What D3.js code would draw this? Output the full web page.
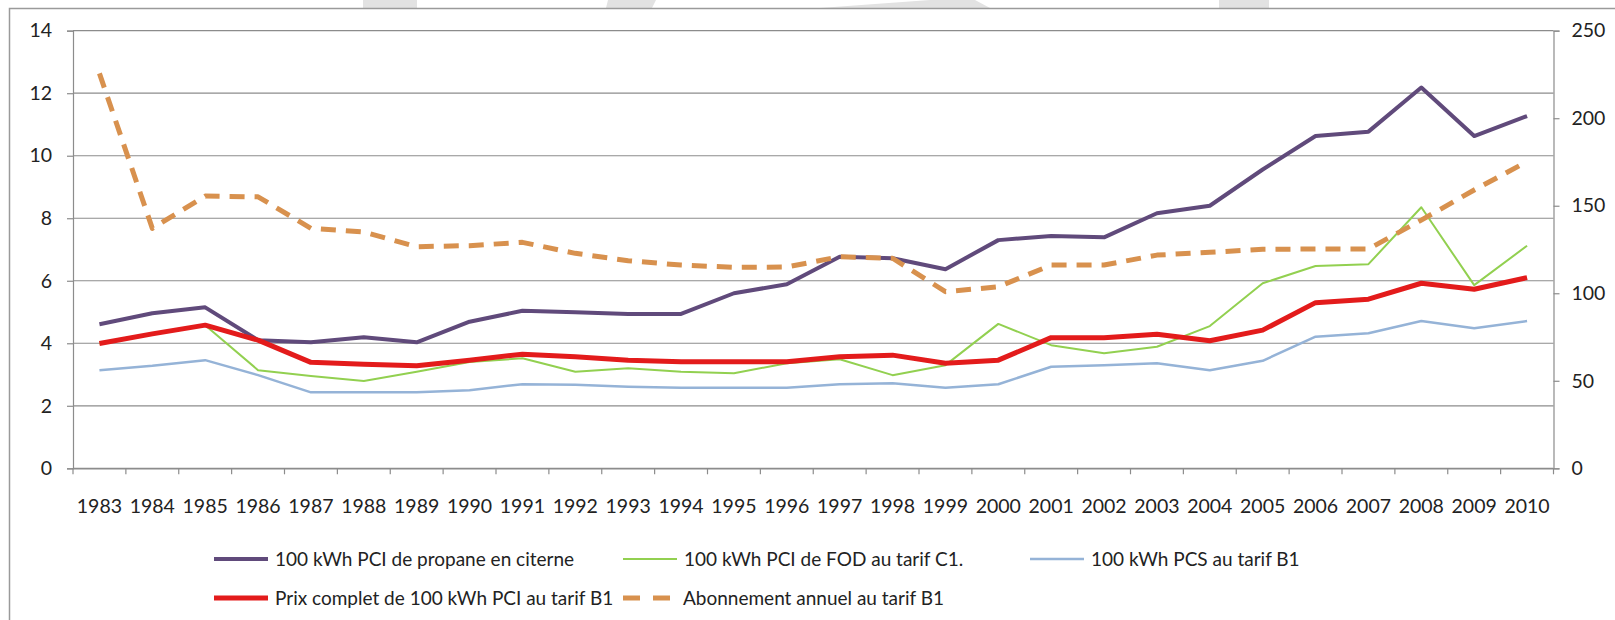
<!DOCTYPE html>
<html>
<head>
<meta charset="utf-8">
<script src="https://cdn.jsdelivr.net/npm/d3@7"></script>
<style>
  body { margin: 0; background: #fff; }
  svg { display: block; font-family: Lato, "Open Sans", sans-serif; }
</style>
</head>
<body>
<div class="plot-container"></div>
<script>
// Data
const years = d3.range(1983, 2011).map(String);

const propane = [4.61, 4.96, 5.15, 4.10, 4.03, 4.19, 4.03, 4.69, 5.04, 4.99, 4.94, 4.94, 5.60, 5.89,
  6.77, 6.72, 6.37, 7.30, 7.43, 7.39, 8.16, 8.40, 9.56, 10.63, 10.77, 12.18, 10.63, 11.27];
const fod = [3.99, 4.30, 4.58, 3.14, 2.95, 2.79, 3.09, 3.40, 3.52, 3.09, 3.20, 3.09, 3.04, 3.36,
  3.49, 2.98, 3.30, 4.62, 3.94, 3.68, 3.89, 4.55, 5.92, 6.47, 6.53, 8.35, 5.86, 7.12];
const pcs = [3.14, 3.28, 3.46, 2.98, 2.43, 2.43, 2.43, 2.50, 2.69, 2.67, 2.61, 2.58, 2.58, 2.58,
  2.69, 2.72, 2.58, 2.69, 3.25, 3.30, 3.36, 3.14, 3.44, 4.21, 4.32, 4.71, 4.48, 4.71];
const prixComplet = [3.99, 4.30, 4.58, 4.10, 3.39, 3.33, 3.28, 3.46, 3.65, 3.57, 3.46, 3.41, 3.41, 3.41,
  3.57, 3.62, 3.36, 3.46, 4.18, 4.18, 4.29, 4.08, 4.42, 5.30, 5.41, 5.92, 5.73, 6.10];
// right axis
const abonnement = [225.6, 137.1, 155.5, 155.1, 137.1, 135.0, 126.6, 127.2, 129.1, 122.8, 118.6, 116.1, 114.8, 115.0,
  120.9, 120.0, 100.9, 103.7, 116.1, 116.1, 121.8, 123.4, 125.1, 125.3, 125.3, 141.8, 159.0, 175.2];

const leftTicks = [0, 2, 4, 6, 8, 10, 12, 14];
const rightTicks = [0, 50, 100, 150, 200, 250];

const series = [
  { name: "100 kWh PCI de propane en citerne", values: propane, axis: "left", color: "#604a7b", width: 4 },
  { name: "100 kWh PCI de FOD au tarif C1.", values: fod, axis: "left", color: "#92d050", width: 2 },
  { name: "100 kWh PCS au tarif B1", values: pcs, axis: "left", color: "#95b3d7", width: 2.5 },
  { name: "Prix complet de 100 kWh PCI au tarif B1", values: prixComplet, axis: "left", color: "#e31b1b", width: 5 },
  { name: "Abonnement annuel au tarif B1", values: abonnement, axis: "right", color: "#d8914e", width: 5, dash: "15,10" }
];

const width = 1615, height = 620;
const GRID_COLOR = "#8c8c8c";
const TEXT_COLOR = "#222";
const FONT_SIZE = 19.5;
const LEGEND_FONT_SIZE = 19;

const svg = d3.select("div.plot-container").append("svg")
  .attr("width", width).attr("height", height);

svg.append("rect").attr("width", width).attr("height", height).attr("fill", "#fff");

// faint watermark pieces peeking above the frame
const watermark = [
  [[363, 0], [417, 0], [417, 8], [363, 8]],
  [[608, 0], [656, 0], [652, 8], [606, 8]],
  [[820, 8], [930, 0], [975, 0], [990, 8]],
  [[1219, 0], [1269, 0], [1269, 8], [1219, 8]]
];
svg.append("g").selectAll("polygon").data(watermark).enter()
  .append("polygon")
  .attr("points", d => d.map(p => p.join(",")).join(" "))
  .attr("fill", "#e2e2e2");

// chart frame
svg.append("rect")
  .attr("x", 9.5).attr("y", 8.5)
  .attr("width", 1700).attr("height", 700)
  .attr("fill", "#fff")
  .attr("stroke", "#9a9a9a")
  .attr("stroke-width", 1.5);

const plot = { left: 73, right: 1553.5, top: 30.7, bottom: 468.3 };

const x = d3.scaleBand().domain(years).range([plot.left, plot.right]);
const yLeft = d3.scaleLinear().domain([0, 14]).range([plot.bottom, plot.top]);
const yRight = d3.scaleLinear().domain([0, 250]).range([plot.bottom, plot.top]);

// gridlines
svg.append("g").attr("class", "grid")
  .selectAll("line").data(leftTicks).enter()
  .append("line")
  .attr("x1", plot.left).attr("x2", plot.right)
  .attr("y1", d => yLeft(d)).attr("y2", d => yLeft(d))
  .attr("stroke", GRID_COLOR).attr("stroke-width", 1.2);

function styleAxis(g) {
  g.select(".domain").attr("stroke", GRID_COLOR).attr("stroke-width", 1.2);
  g.selectAll(".tick line").attr("stroke", GRID_COLOR).attr("stroke-width", 1.2);
  g.selectAll(".tick text")
    .attr("fill", TEXT_COLOR)
    .style("font-size", FONT_SIZE + "px")
    .style("font-family", "Lato, 'Open Sans', sans-serif");
}

// left axis
svg.append("g")
  .attr("transform", `translate(${plot.left},0)`)
  .call(d3.axisLeft(yLeft).tickValues(leftTicks).tickSizeOuter(0).tickSize(6).tickPadding(15))
  .call(styleAxis);

// right axis
svg.append("g")
  .attr("transform", `translate(${plot.right},0)`)
  .call(d3.axisRight(yRight).tickValues(rightTicks).tickSizeOuter(0).tickSize(6).tickPadding(12))
  .call(styleAxis);

// bottom axis: labels at band centres, ticks between categories
const xAxisG = svg.append("g")
  .attr("transform", `translate(0,${plot.bottom})`)
  .call(d3.axisBottom(x).tickSize(0).tickPadding(31).tickSizeOuter(0))
  .call(styleAxis);
xAxisG.selectAll(".tick line").remove();
xAxisG.append("g").selectAll("line")
  .data(d3.range(years.length + 1))
  .enter().append("line")
  .attr("x1", i => plot.left + i * x.step())
  .attr("x2", i => plot.left + i * x.step())
  .attr("y1", 0).attr("y2", 6)
  .attr("stroke", GRID_COLOR).attr("stroke-width", 1.2);

// lines
const cx = i => x(years[i]) + x.bandwidth() / 2;
series.forEach(s => {
  const yScale = s.axis === "left" ? yLeft : yRight;
  const line = d3.line().x((d, i) => cx(i)).y(d => yScale(d));
  svg.append("path")
    .datum(s.values)
    .attr("d", line)
    .attr("fill", "none")
    .attr("stroke", s.color)
    .attr("stroke-width", s.width)
    .attr("stroke-linejoin", "round")
    .attr("stroke-dasharray", s.dash || null);
});

// legend
const legendPos = [
  { x: 214, y: 559 }, { x: 623, y: 559 }, { x: 1030, y: 559 },
  { x: 214, y: 598 }, { x: 623, y: 598 }
];
const legend = svg.append("g").attr("class", "legend");
series.forEach((s, i) => {
  const g = legend.append("g").attr("transform", `translate(${legendPos[i].x},${legendPos[i].y})`);
  g.append("line")
    .attr("x1", 0).attr("x2", s.dash ? 50 : 54)
    .attr("stroke", s.color)
    .attr("stroke-width", s.width)
    .attr("stroke-dasharray", s.dash ? "17,13" : null);
  g.append("text")
    .attr("x", s.dash ? 60 : 61)
    .attr("dy", "0.35em")
    .attr("fill", TEXT_COLOR)
    .style("font-size", LEGEND_FONT_SIZE + "px")
    .text(s.name);
});
</script>
</body>
</html>
